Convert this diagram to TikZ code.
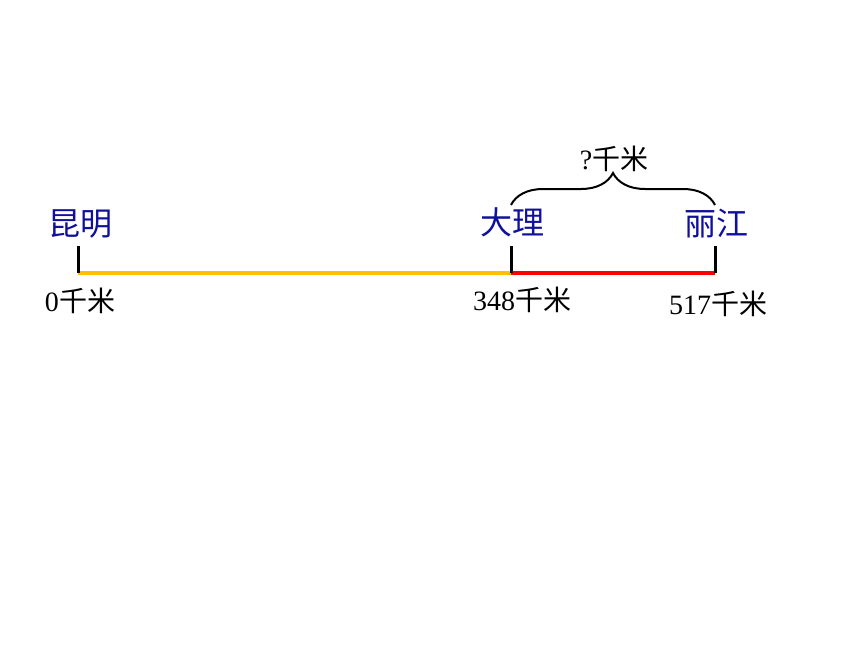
\documentclass[tikz,border=0pt]{standalone}
\usepackage{fontspec}
\setmainfont{Liberation Serif}
\newfontfamily\cjk{Noto Sans CJK SC}
\usepackage{xcolor}
\usepackage{tikz}
\usetikzlibrary{positioning, decorations.pathreplacing}
\definecolor{cityblue}{HTML}{10109C}
\definecolor{roadyellow}{HTML}{FFC000}
\definecolor{roadred}{HTML}{FF0000}

\begin{document}
\begin{tikzpicture}[x=1pt,y=-1pt]
					\useasboundingbox (0,0) rectangle (860,645);
					\tikzstyle{city}=[inner sep=0pt,text=cityblue,font=\cjk\fontsize{32}{34}\selectfont]
					\tikzstyle{dist}=[inner sep=0pt,font=\fontsize{28}{30}\selectfont]
					\tikzstyle{tick}=[line width=3pt,black]
					\coordinate(t1) at (78,246);
					\coordinate(b1) at (78,273);
					\coordinate(t2) at (511,246);
					\coordinate(b2) at (511,273);
					\coordinate(t3) at (715,246);
					\coordinate(b3) at (715,273);
					\coordinate(e1) at (511,205);
					\coordinate(e2) at (715,205);
					\node[city](c1) at (80,224){昆明};
					\node[city](c2) at (512,222){大理};
					\node[city](c3) at (716,224){丽江};
					\node[dist](d1) at (80,301){0{\cjk 千米}};
					\node[dist](d2) at (522,300){348{\cjk 千米}};
					\node[dist](d3) at (718,304){517{\cjk 千米}};
					\node[dist](q) at (614,159){?{\cjk 千米}};
					\path[line width=3.5pt]
						(b1) edge[roadyellow] node {}(b2)
						(b2) edge[roadred] node {}(b3);
					\path[tick]
						(t1) edge node {}(b1)
						(t2) edge node {}(b2)
						(t3) edge node {}(b3);
					\draw[line width=2pt,decorate,decoration={brace,amplitude=32pt}]
						(e1) -- (e2);
				\end{tikzpicture}
\end{document}
